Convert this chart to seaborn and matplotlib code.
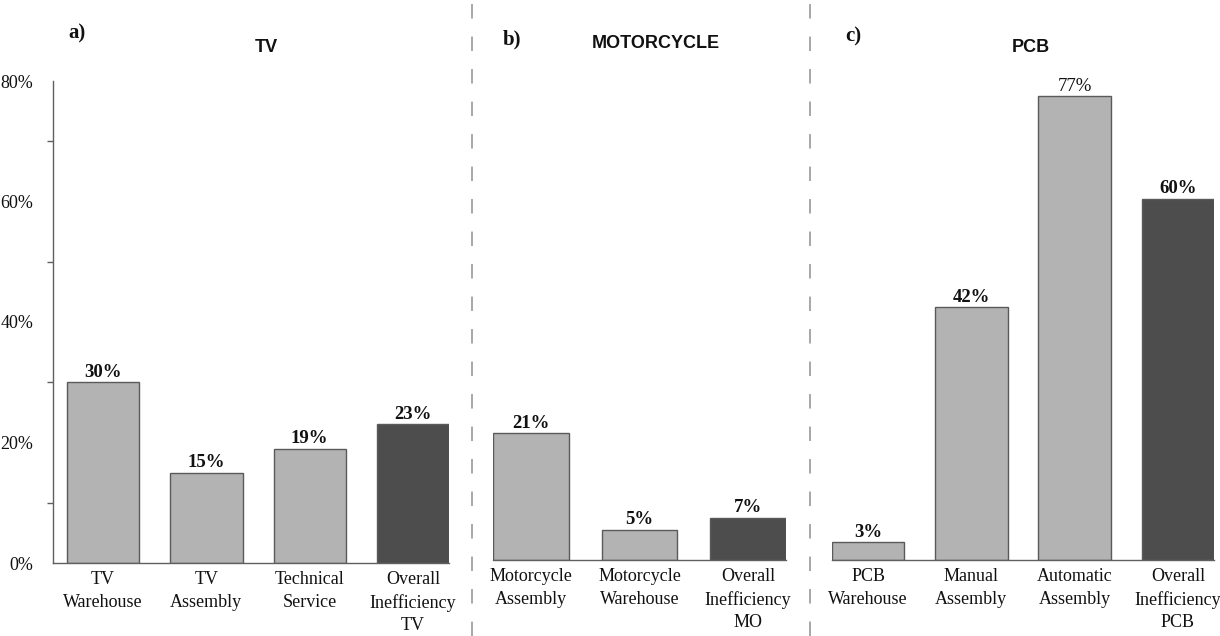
import matplotlib
matplotlib.use("Agg")
import matplotlib.pyplot as plt
import seaborn as sns
from matplotlib.lines import Line2D

# ---- data ----
tv_labels = ["TV\nWarehouse", "TV\nAssembly", "Technical\nService", "Overall\nInefficiency\nTV"]
tv_values = [30, 15, 19, 23]
mo_labels = ["Motorcycle\nAssembly", "Motorcycle\nWarehouse", "Overall\nInefficiency\nMO"]
mo_values = [21, 5, 7]
pcb_labels = ["PCB\nWarehouse", "Manual\nAssembly", "Automatic\nAssembly", "Overall\nInefficiency\nPCB"]
pcb_values = [3, 42, 77, 60]
panel_titles = ["TV", "MOTORCYCLE", "PCB"]
panel_letters = ["a)", "b)", "c)"]
y_ticks = [0, 20, 40, 60, 80]
y_minor = [10, 30, 50, 70]

sns.set_theme(style="white")
plt.rcParams["font.family"] = ["Liberation Serif", "DejaVu Serif"]

W, H = 1220, 636
fig = plt.figure(figsize=(W / 100, H / 100), dpi=100)

LIGHT = "#b3b3b3"
DARK = "#4d4d4d"
EDGE = "#5a5a5a"
SPINE = "#606060"


def px_axes(left, right, bottom, top):
    return fig.add_axes([left / W, (H - bottom) / H, (right - left) / W, (bottom - top) / H])


panels = [
    (tv_labels, tv_values, (53, 449, 563, 81), (-0.484, 3.348)),
    (mo_labels, mo_values, (493, 786, 560, 78), (-0.35, 2.35)),
    (pcb_labels, pcb_values, (832, 1214, 560, 78), (-0.35, 3.35)),
]

axes = []
for k, (labels, values, box, xl) in enumerate(panels):
    ax = px_axes(*box)
    axes.append(ax)
    colors = [LIGHT] * (len(values) - 1) + [DARK]
    sns.barplot(x=labels, y=values, hue=labels, palette=colors, legend=False,
                width=0.7, edgecolor=EDGE, linewidth=1.0, saturation=1, ax=ax)
    ax.set_xlim(*xl)
    ax.set_ylim(0, 80)
    ax.set_facecolor("none")
    for s in ["top", "right"]:
        ax.spines[s].set_visible(False)
    ax.spines["bottom"].set_color(SPINE)
    ax.spines["bottom"].set_linewidth(1.0)
    ax.tick_params(axis="x", length=0, pad=6, labelsize=13, colors="#111111")
    for t in ax.get_xticklabels():
        t.set_linespacing(1.42)
        t.set_verticalalignment("top")
    if k == 0:
        ax.spines["left"].set_color(SPINE)
        ax.spines["left"].set_linewidth(1.0)
        ax.set_yticks(y_ticks)
        ax.set_yticklabels([f"{v}%" for v in y_ticks])
        ax.set_yticks(y_minor, minor=True)
        ax.tick_params(axis="y", which="major", length=9, width=1.0, color=SPINE,
                       labelsize=13, pad=5, colors="#111111")
        ax.tick_params(axis="y", which="minor", left=True, length=4, width=1.0, color=SPINE)
    else:
        ax.spines["left"].set_visible(False)
        ax.set_yticks([])
    ax.set_xlabel("")
    ax.set_ylabel("")
    for i, v in enumerate(values):
        weight = "normal" if v == 77 else "bold"
        ax.annotate(f"{v}%", (i, v), xytext=(0, 1.0), textcoords="offset points",
                    ha="center", va="bottom", fontsize=13.5, fontweight=weight, color="#111111")

# titles and panel letters
title_pos = [(266, 47), (656, 44), (1031, 47)]
letter_pos = [(68, 33), (503, 39), (845, 36)]
for (tx, ty), t in zip(title_pos, panel_titles):
    fig.text(tx / W, 1 - ty / H, t, ha="center", va="center", fontsize=13,
             fontweight="bold", family=["Liberation Sans", "DejaVu Sans"], color="#111111")
for (lx, ly), t in zip(letter_pos, panel_letters):
    fig.text(lx / W, 1 - ly / H, t, ha="left", va="center", fontsize=15,
             fontweight="bold", color="#111111")

# dashed separators
for xpx in [472, 810]:
    fig.add_artist(Line2D([xpx / W, xpx / W], [0, 1], transform=fig.transFigure,
                          color="#a0a0a0", linewidth=1.3, linestyle=(0, (8, 10))))

fig.savefig("out.png", dpi=100)
